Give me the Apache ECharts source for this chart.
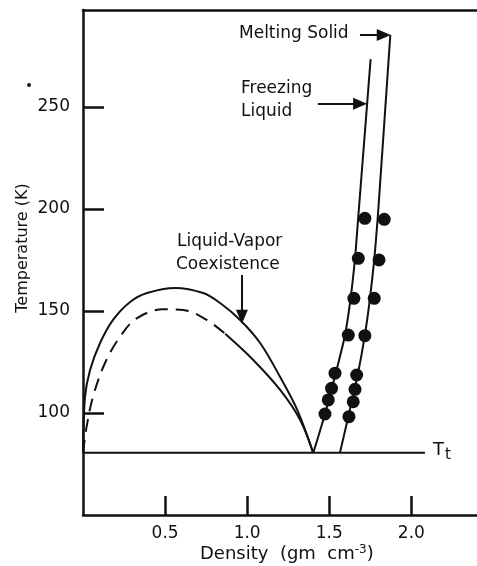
<!DOCTYPE html>
<html>
<head>
<meta charset="utf-8">
<script src="https://cdn.jsdelivr.net/npm/echarts@6/dist/echarts.min.js"></script>
<style>
  html, body { margin: 0; padding: 0; background: #ffffff; }
  #chart { width: 477px; height: 566px; }
</style>
</head>
<body>
<div id="chart"></div>
<script>
// Triple-point temperature (K)
const tripleT = 80.5;

// Liquid-vapor coexistence, upper (solid) curve
const coexUpperDensity = [0.0, 0.012, 0.043, 0.104, 0.183, 0.287, 0.39, 0.561, 0.732, 0.835, 0.957, 1.079, 1.201, 1.305, 1.402];
const coexUpperTemp    = [80.5, 107.8, 121.1, 134.3, 145.6, 154.4, 158.8, 161.3, 158.8, 153.9, 145.6, 134.3, 117.6, 101.5, 80.5];

// Liquid-vapor coexistence, lower curve: dashed vapor side and solid liquid side
const coexLowerDashDensity = [0.0, 0.022, 0.061, 0.134, 0.226, 0.327, 0.488, 0.61, 0.754, 0.866];
const coexLowerDashTemp    = [80.5, 93.3, 108.0, 124.5, 137.4, 146.4, 150.8, 150.5, 145.6, 138.8];
const coexLowerSolidDensity = [0.866, 1.037, 1.201, 1.323, 1.402];
const coexLowerSolidTemp    = [138.8, 126.0, 111.3, 96.6, 80.5];

// Freezing liquid line
const freezingDensity = [1.403, 1.474, 1.555, 1.596, 1.630, 1.657, 1.676, 1.731, 1.752];
const freezingTemp    = [80.5, 99.5, 124.4, 138.2, 156.2, 175.8, 195.4, 251.8, 273.4];

// Melting solid line
const meltingDensity = [1.565, 1.616, 1.673, 1.717, 1.748, 1.774, 1.795, 1.872];
const meltingTemp    = [80.5, 98.2, 118.6, 138.2, 156.2, 175.0, 195.4, 285.3];

// Measured points, liquid column and solid column
const liquidPointDensity = [1.717, 1.677, 1.650, 1.616, 1.535, 1.514, 1.494, 1.474];
const liquidPointTemp    = [195.4, 175.8, 156.2, 138.2, 119.5, 112.1, 106.4, 99.5];
const solidPointDensity  = [1.835, 1.803, 1.774, 1.717, 1.667, 1.657, 1.646, 1.620];
const solidPointTemp     = [194.9, 175.0, 156.2, 137.9, 118.6, 111.6, 105.5, 98.2];

// Axis ticks
const densityTicks = [0.5, 1.0, 1.5, 2.0];
const tempTicks = [100, 150, 200, 250];

const pairs = (xs, ys) => xs.map((x, i) => [x, ys[i]]);

const INK = '#111111';
const FONT = 'DejaVu Sans';

const chart = echarts.init(document.getElementById('chart'), null, { renderer: 'canvas' });

const lineSeries = (data, extra) => Object.assign({
  type: 'line',
  data: data,
  showSymbol: false,
  symbol: 'none',
  smooth: 0.35,
  silent: true,
  lineStyle: { color: INK, width: 2 },
  z: 3
}, extra || {});

const arrowLine = (x1, y1, x2, y2) => [
  { coord: [x1, y1] },
  { coord: [x2, y2] }
];

chart.setOption({
  animation: false,
  backgroundColor: '#ffffff',
  grid: { left: 83, right: 0, top: 10, bottom: 51, containLabel: false },
  xAxis: [{
    type: 'value',
    min: 0, max: 2.4, interval: 0.5,
    axisLine: { show: true, lineStyle: { color: INK, width: 2.5 } },
    axisTick: {
      show: true, inside: true, length: 19, customValues: densityTicks,
      lineStyle: { color: INK, width: 2.5 }
    },
    axisLabel: {
      color: INK, fontFamily: FONT, fontSize: 17, margin: 10, customValues: densityTicks,
      formatter: v => v.toFixed(1)
    },
    splitLine: { show: false }
  }, {
    type: 'value',
    position: 'top',
    min: 0, max: 2.4,
    axisLine: { show: true, onZero: false, lineStyle: { color: INK, width: 2.5 } },
    axisTick: { show: false },
    axisLabel: { show: false },
    splitLine: { show: false }
  }],
  yAxis: {
    type: 'value',
    min: 50, max: 297.5, interval: 50,
    axisLine: { show: true, lineStyle: { color: INK, width: 2.5 } },
    axisTick: {
      show: true, inside: true, length: 21, customValues: tempTicks,
      lineStyle: { color: INK, width: 2.5 }
    },
    axisLabel: {
      color: INK, fontFamily: FONT, fontSize: 17, margin: 13, customValues: tempTicks,
      formatter: v => String(v)
    },
    splitLine: { show: false }
  },
  series: [
    lineSeries(pairs(coexUpperDensity, coexUpperTemp)),
    lineSeries(pairs(coexLowerDashDensity, coexLowerDashTemp), {
      lineStyle: { color: INK, width: 2, type: [13, 8] }
    }),
    lineSeries(pairs(coexLowerSolidDensity, coexLowerSolidTemp)),
    lineSeries(pairs(freezingDensity, freezingTemp), { smooth: 0.2 }),
    lineSeries(pairs(meltingDensity, meltingTemp), { smooth: 0.2 }),
    {
      // Triple-point isotherm, carrying the annotation arrows
      type: 'line',
      data: [[0, tripleT], [2.083, tripleT]],
      showSymbol: false,
      symbol: 'none',
      silent: true,
      lineStyle: { color: INK, width: 2 },
      z: 3,
      markLine: {
        silent: true,
        symbol: ['none', 'triangle'],
        symbolSize: [12, 14],
        label: { show: false },
        lineStyle: { color: INK, width: 2, type: 'solid' },
        data: [
          arrowLine(1.687, 285.3, 1.832, 285.3),
          arrowLine(1.431, 251.5, 1.688, 251.5),
          arrowLine(0.968, 167.6, 0.968, 147.2)
        ]
      }
    },
    {
      type: 'scatter',
      data: pairs(liquidPointDensity, liquidPointTemp),
      symbol: 'circle',
      symbolSize: 13,
      silent: true,
      itemStyle: { color: INK, opacity: 1 },
      z: 4
    },
    {
      type: 'scatter',
      data: pairs(solidPointDensity, solidPointTemp),
      symbol: 'circle',
      symbolSize: 13,
      silent: true,
      itemStyle: { color: INK, opacity: 1 },
      z: 4
    }
  ],
  graphic: [
    { type: 'text', left: 239, top: 25, style: { text: 'Melting Solid', fill: INK, font: '17px "DejaVu Sans"' } },
    { type: 'text', left: 241, top: 80, style: { text: 'Freezing', fill: INK, font: '17px "DejaVu Sans"' } },
    { type: 'text', left: 241, top: 103, style: { text: 'Liquid', fill: INK, font: '17px "DejaVu Sans"' } },
    { type: 'text', left: 177, top: 233, style: { text: 'Liquid-Vapor', fill: INK, font: '17px "DejaVu Sans"' } },
    { type: 'text', left: 176, top: 256, style: { text: 'Coexistence', fill: INK, font: '17px "DejaVu Sans"' } },
    {
      type: 'text', left: 433, top: 441,
      style: {
        text: 'T{sub|t}', fill: INK, font: '18px "DejaVu Sans"',
        rich: { sub: { fontSize: 15, fontFamily: FONT, fill: INK, padding: [10, 0, 0, 1] } }
      }
    },
    {
      type: 'text', x: 23, y: 248, rotation: Math.PI / 2,
      style: { text: 'Temperature (K)', fill: INK, font: '16px "DejaVu Sans"', textAlign: 'center', textVerticalAlign: 'middle' }
    },
    {
      type: 'text', left: 200, top: 544,
      style: {
        text: 'Density  (gm  cm{sup|-3})', fill: INK, font: '18px "DejaVu Sans"',
        rich: { sup: { fontSize: 12, fontFamily: FONT, fill: INK, padding: [0, 0, 9, 0] } }
      }
    },
    { type: 'circle', shape: { cx: 29, cy: 85, r: 2 }, style: { fill: INK } }
  ]
});
</script>
</body>
</html>
